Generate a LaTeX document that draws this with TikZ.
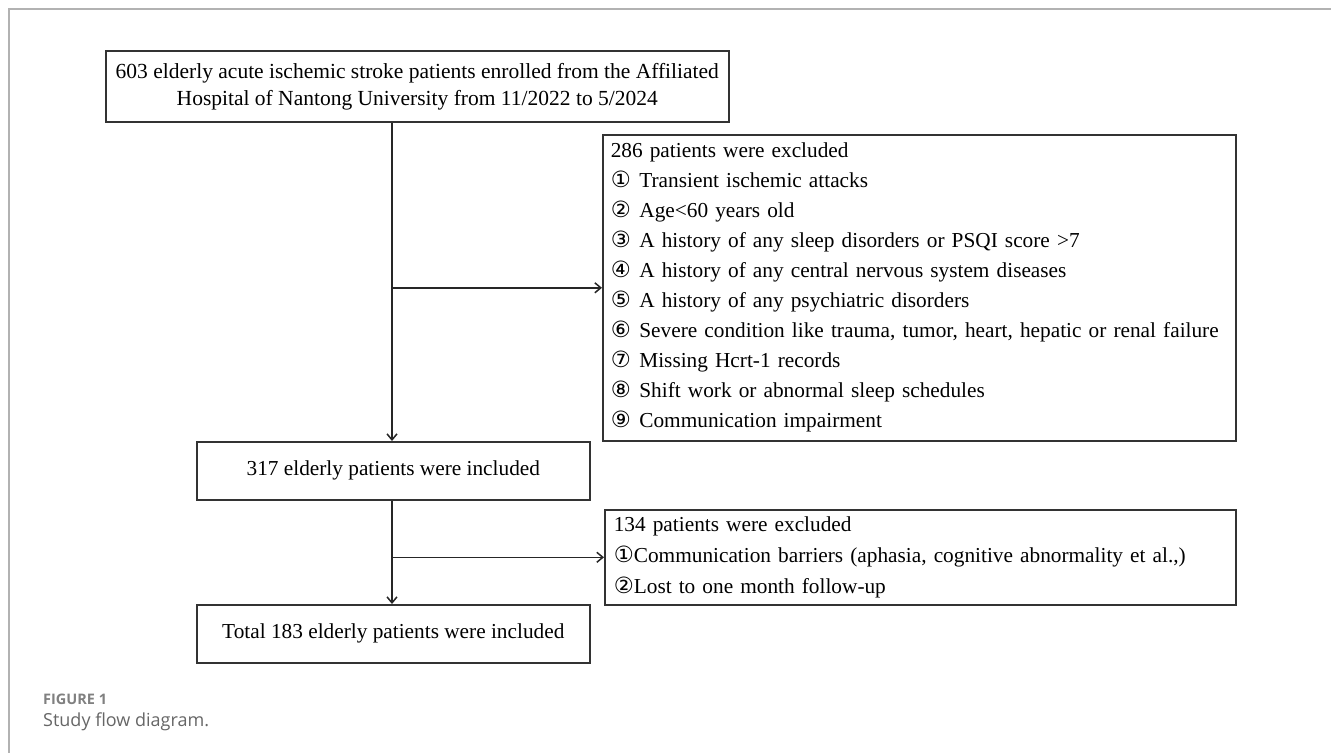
\documentclass[tikz,border=0pt]{standalone}
\usepackage{fontspec}
\setmainfont{Liberation Serif}
\newfontfamily\circfont{DejaVu Sans}[Scale=1.05]
\newfontfamily\capfont{Open Sans}
\newcommand{\cn}[1]{{\circfont #1}}
\newcommand{\cnum}[1]{{\circfont #1}\hspace{0.4em}}
\usetikzlibrary{arrows.meta,positioning}

\begin{document}
\begin{tikzpicture}[
  x=1pt,y=-1pt,
  box/.style={draw=black!80,line width=1.6pt,fill=white,inner ysep=0pt,
    font=\fontsize{21.3}{30}\selectfont},
  stage/.style={box,align=center,anchor=north west,inner xsep=7pt},
  excl/.style={box,align=left,anchor=north west,inner xsep=8pt},
  arrow/.style={-{Straight Barb[length=6pt,width=10pt]},line width=1.5pt,draw=black!85},
  frame/.style={draw=black!30,line width=1.5pt},
  caption/.style={anchor=west,inner sep=0pt}
]
  \useasboundingbox (0,0) rectangle (1331,753);
  \draw[frame] (1331,9) -- (9,9) -- (9,753);

  \node[stage,minimum width=623pt,minimum height=71pt,
    font=\fontsize{21.5}{27}\selectfont] (enrolled) at (105,50)
    {603 elderly acute ischemic stroke patients enrolled from the Affiliated\\
     Hospital of Nantong University from 11/2022 to 5/2024};
  \node[stage,minimum width=393pt,minimum height=58pt] (included) at (196,441)
    {317 elderly patients were included};
  \node[stage,minimum width=393pt,minimum height=58pt] (total) at (196,604)
    {Total 183 elderly patients were included};
  \node[excl,minimum width=633pt,minimum height=306pt,text width=617pt]
    (excluded) at (602,134)
    {286 patients were excluded\\
     \cnum{①}Transient ischemic attacks\\
     \cnum{②}Age<60 years old\\
     \cnum{③}A history of any sleep disorders or PSQI score >7\\
     \cnum{④}A history of any central nervous system diseases\\
     \cnum{⑤}A history of any psychiatric disorders\\
     \mbox{\cnum{⑥}Severe condition like trauma, tumor, heart, hepatic or renal failure}\\
     \cnum{⑦}Missing Hcrt-1 records\\
     \cnum{⑧}Shift work or abnormal sleep schedules\\
     \cnum{⑨}Communication impairment};
  \node[excl,minimum width=631pt,minimum height=95pt,text width=613pt,
    font=\fontsize{21.3}{31}\selectfont] (lost) at (604,509)
    {134 patients were excluded\\
     \cn{①}Communication barriers (aphasia, cognitive abnormality et al.,)\\
     \cn{②}Lost to one month follow-up};

  \coordinate (trunk) at (392,0);
  \draw[arrow] (trunk |- enrolled.south) -- (trunk |- included.north);
  \draw[arrow] (trunk |- excluded.west) -- (excluded.west);
  \draw[arrow] (trunk |- included.south) -- (trunk |- total.north);
  \draw[arrow] (trunk |- lost.west) -- (lost.west);

  \node[caption,text=black!50,font=\capfont\bfseries\fontsize{14.5}{16}\selectfont]
    (fignum) at (43,699) {FIGURE 1};
  \node[caption,text=black!60,font=\capfont\fontsize{18}{20}\selectfont]
    (figtitle) at (43,722) {Study flow diagram.};
\end{tikzpicture}
\end{document}
